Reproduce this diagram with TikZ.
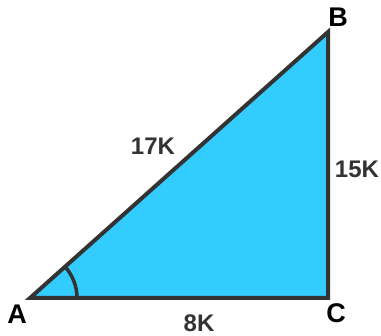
\documentclass[tikz,border=0pt]{standalone}
\usepackage{fontspec}
\setmainfont{Liberation Sans}
\usetikzlibrary{calc}
\definecolor{tri}{HTML}{33CCFF}
\definecolor{edge}{HTML}{333333}
\tikzset{
  vlabel/.style={font=\fontsize{27}{27}\selectfont\bfseries, text=black, inner sep=0pt},
  slabel/.style={font=\fontsize{24}{24}\selectfont\bfseries, text=edge, inner sep=0pt},
}
\begin{document}
\begin{tikzpicture}[x=1pt,y=-1pt]
\useasboundingbox (0,0) rectangle (381,336);
\coordinate (A) at (30,298);
\coordinate (B) at (328,32);
\coordinate (C) at (328,298);
\fill[tri] (A) -- (B) -- (C) -- cycle;
\draw[edge, line width=4pt, line join=miter] (A) -- (B) -- (C) -- cycle;
\draw[edge, line width=3.5pt] ($(A)+(47,0)$) arc[start angle=0, end angle=-41.7, radius=47];
\node[vlabel] (la) at (17,314) {A};
\node[vlabel] (lb) at (338,17) {B};
\node[vlabel] (lc) at (336,313) {C};
\node[slabel] (l17) at (153,146) {17K};
\node[slabel] (l15) at (357,169) {15K};
\node[slabel] (l8) at (199,323) {8K};
\end{tikzpicture}
\end{document}
